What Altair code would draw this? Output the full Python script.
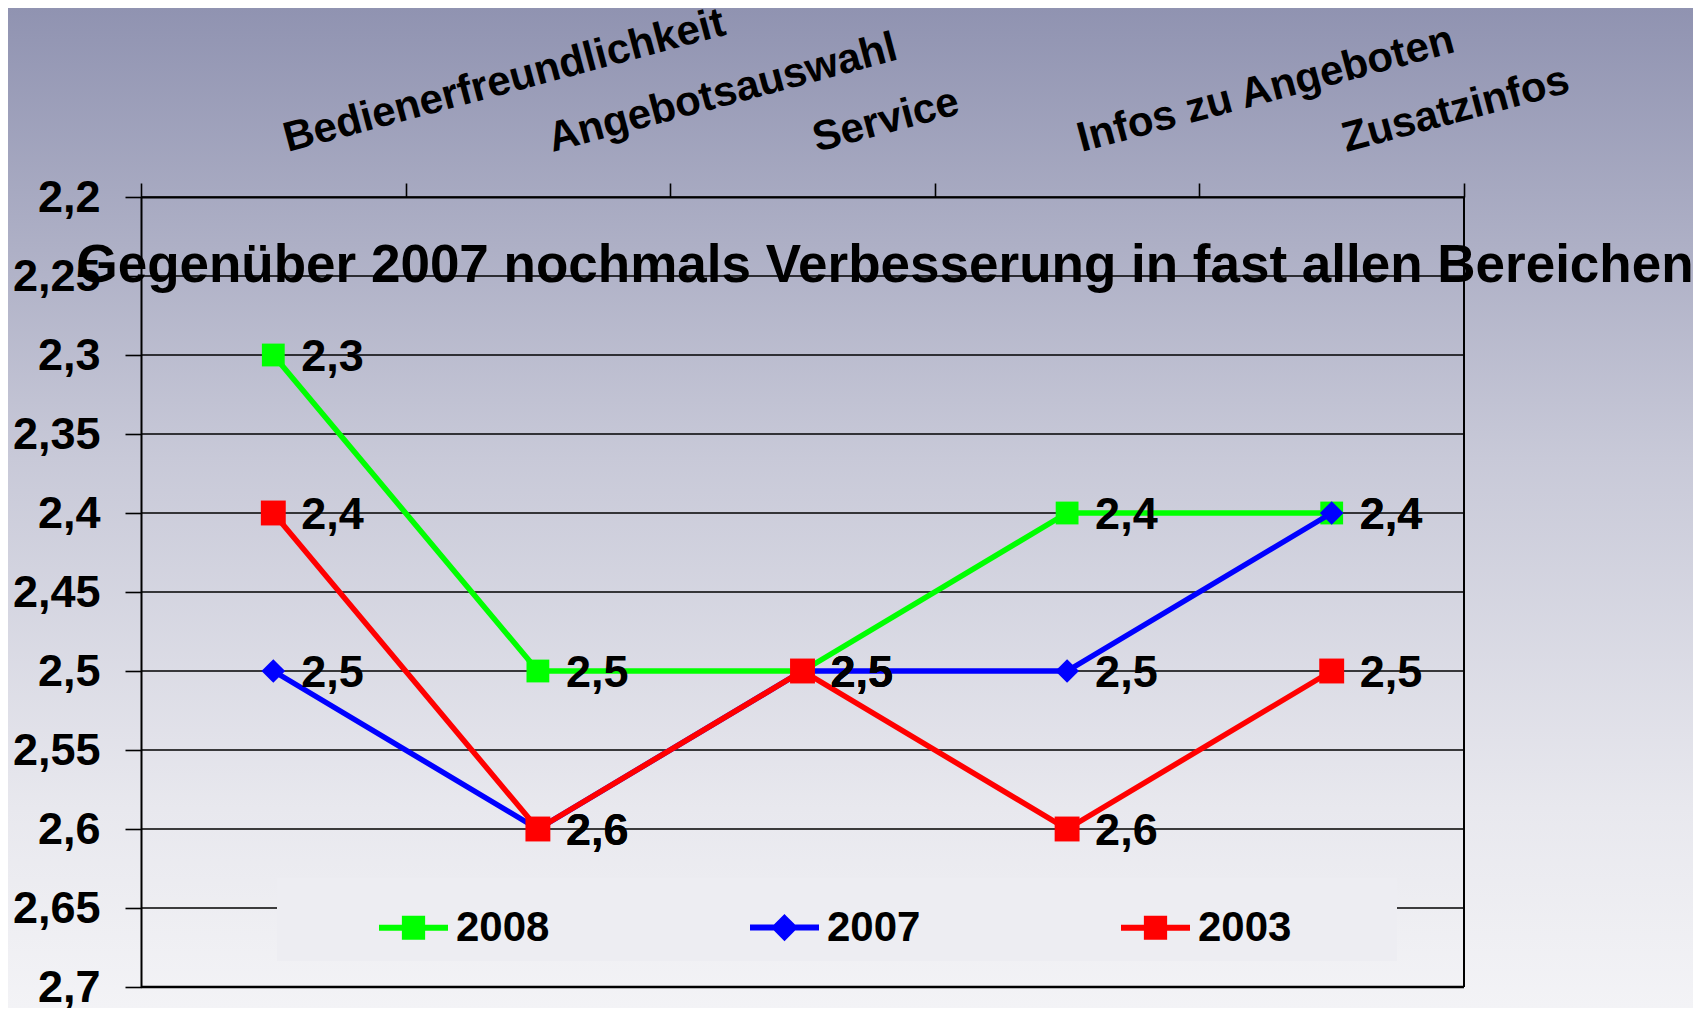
import altair as alt
import pandas as pd

# ---------------- data ----------------
CATEGORIES = ["Bedienerfreundlichkeit", "Angebotsauswahl", "Service",
              "Infos zu Angeboten", "Zusatzinfos"]
SERIES = ["2008", "2007", "2003"]
V2008 = [2.3, 2.5, 2.5, 2.4, 2.4]
V2007 = [2.5, 2.6, 2.5, 2.5, 2.4]
V2003 = [2.4, 2.6, 2.5, 2.6, 2.5]
Y_TICKS = [2.2, 2.25, 2.3, 2.35, 2.4, 2.45, 2.5, 2.55, 2.6, 2.65, 2.7]
X_EDGES = [-0.5, 0.5, 1.5, 2.5, 3.5, 4.5]
TITLE = "Gegenüber 2007 nochmals Verbesserung in fast allen Bereichen"

VALUES = {"2008": V2008, "2007": V2007, "2003": V2003}

rows = []
for s in SERIES:
    for i, (c, v) in enumerate(zip(CATEGORIES, VALUES[s])):
        rows.append({"series": s, "idx": i, "category": c, "value": v})
df = pd.DataFrame(rows)
cat_df = pd.DataFrame({"idx": list(range(len(CATEGORIES))), "category": CATEGORIES})
grid_df = pd.DataFrame({"v": Y_TICKS})
title_df = pd.DataFrame({"t": [TITLE]})
dummy = pd.DataFrame({"a": [0]})

# ---------------- styles ----------------
FONT = "Liberation Sans"
COLORS = {"2008": "#00ff00", "2007": "#0000ff", "2003": "#ff0000"}
SHAPES = {"2008": "square", "2007": "diamond", "2003": "square"}
SIZES = {"2008": 520, "2007": 560, "2003": 620}
LEGEND_PATHS = [
    "M-1,0H1M-0.25,-0.26H0.25V0.26H-0.25Z",
    "M-1,0H1M0,-0.27L0.27,0L0,0.27L-0.27,0Z",
    "M-1,0H1M-0.25,-0.26H0.25V0.26H-0.25Z",
]
BLANK_PAD = "\u2800" * 3   # invisible glyphs that widen the legend box to the right

W, H = 1323, 790
PAD = {"left": 133, "top": 189, "right": 229, "bottom": 21}

xscale = alt.Scale(domain=[-0.5, 4.5], nice=False, zero=False)
yscale = alt.Scale(domain=[2.2, 2.7], reverse=True, nice=False, zero=False)

xaxis = alt.Axis(orient="top", values=X_EDGES, labels=False, grid=False, title=None,
                 ticks=True, tickSize=14, tickWidth=1.6, tickColor="black",
                 domain=True, domainColor="black", domainWidth=2, zindex=1)
yaxis = alt.Axis(values=Y_TICKS, grid=False, title=None, ticks=True, tickSize=16,
                 tickWidth=1.6, tickColor="black", domain=True, domainColor="black",
                 domainWidth=2, labelFont=FONT, labelFontSize=45, labelFontWeight="bold",
                 labelColor="black", labelPadding=25, labelFlush=False, labelOverlap=False,
                 labelExpr="replace(format(datum.value, '.2~f'), '.', ',')", zindex=1)

X = alt.X("idx:Q", scale=xscale, axis=xaxis)
Y = alt.Y("value:Q", scale=yscale, axis=yaxis)

# background gradient
bg = alt.Chart(dummy).mark_rect(
    fill=alt.LinearGradient(
        gradient="linear", x1=0, x2=0, y1=0, y2=1,
        stops=[alt.GradientStop(color="#9093b1", offset=0),
               alt.GradientStop(color="#c8c9d8", offset=0.45),
               alt.GradientStop(color="#e8e8ee", offset=0.8),
               alt.GradientStop(color="#f3f3f6", offset=1)]),
).encode(x=alt.value(-PAD["left"]), x2=alt.value(W + PAD["right"]),
         y=alt.value(-PAD["top"]), y2=alt.value(H + PAD["bottom"]))

grid = alt.Chart(grid_df).mark_rule(color="black", strokeWidth=1.6).encode(
    y=alt.Y("v:Q", scale=yscale, axis=yaxis))
right_border = alt.Chart(dummy).mark_rule(color="black", strokeWidth=2).encode(
    x=alt.X(datum=4.5, type="quantitative", scale=xscale, axis=xaxis))
bottom_border = alt.Chart(dummy).mark_rule(color="black", strokeWidth=2.5).encode(
    y=alt.Y(datum=2.7, type="quantitative", scale=yscale, axis=yaxis))

series_layers = []
for s in SERIES:
    base = alt.Chart(df).transform_filter(alt.datum.series == s)
    series_layers.append(base.mark_line(strokeWidth=5.5, color=COLORS[s]).encode(x=X, y=Y))
    series_layers.append(base.mark_point(filled=True, opacity=1, shape=SHAPES[s],
                                         size=SIZES[s], color=COLORS[s]).encode(x=X, y=Y))

labels = alt.Chart(df).transform_calculate(
    lab="replace(format(datum.value, '.1f'), '.', ',')"
).mark_text(align="left", baseline="middle", dx=28, dy=2, font=FONT, fontSize=45,
            fontWeight="bold", color="black").encode(x=X, y=Y, text="lab:N")

cat_labels = alt.Chart(cat_df).mark_text(
    align="left", baseline="alphabetic", angle=345, dx=15, font=FONT, fontSize=42,
    fontWeight="bold", color="black"
).encode(x=X, y=alt.value(-41), text="category:N")

title = alt.Chart(title_df).mark_text(
    align="center", baseline="alphabetic", font=FONT, fontSize=53, fontWeight="bold",
    color="black"
).encode(text="t:N", x=alt.value(744), y=alt.value(85))

LEG = alt.Legend(
    title=" ", titleOrient="left", titleFontSize=10, titlePadding=87,
    orient="none", legendX=136, legendY=681, direction="horizontal",
    labelFont=FONT, labelFontSize=42, labelFontWeight="bold", labelColor="black",
    labelOffset=5, labelLimit=500, columnPadding=188,
    labelExpr="datum.label == '2003' ? '2003" + BLANK_PAD + "' : datum.label",
    symbolSize=4761, symbolStrokeWidth=6, fillColor="#ededf2", padding=12, zindex=1,
)
legend_layer = alt.Chart(df).transform_filter("false").mark_point(filled=True, opacity=1).encode(
    fill=alt.Fill("series:N", scale=alt.Scale(domain=SERIES, range=[COLORS[s] for s in SERIES]), legend=LEG),
    stroke=alt.Stroke("series:N", scale=alt.Scale(domain=SERIES, range=[COLORS[s] for s in SERIES]), legend=LEG),
    shape=alt.Shape("series:N", scale=alt.Scale(domain=SERIES, range=LEGEND_PATHS), legend=LEG),
)

chart = alt.layer(
    bg, grid, right_border, bottom_border, *series_layers, labels, cat_labels, title, legend_layer
).properties(
    width=W, height=H, padding=PAD, autosize=alt.AutoSizeParams(type="none")
).configure_view(stroke=None)

chart.save("out.html", embed_options={"renderer": "svg", "actions": False})
